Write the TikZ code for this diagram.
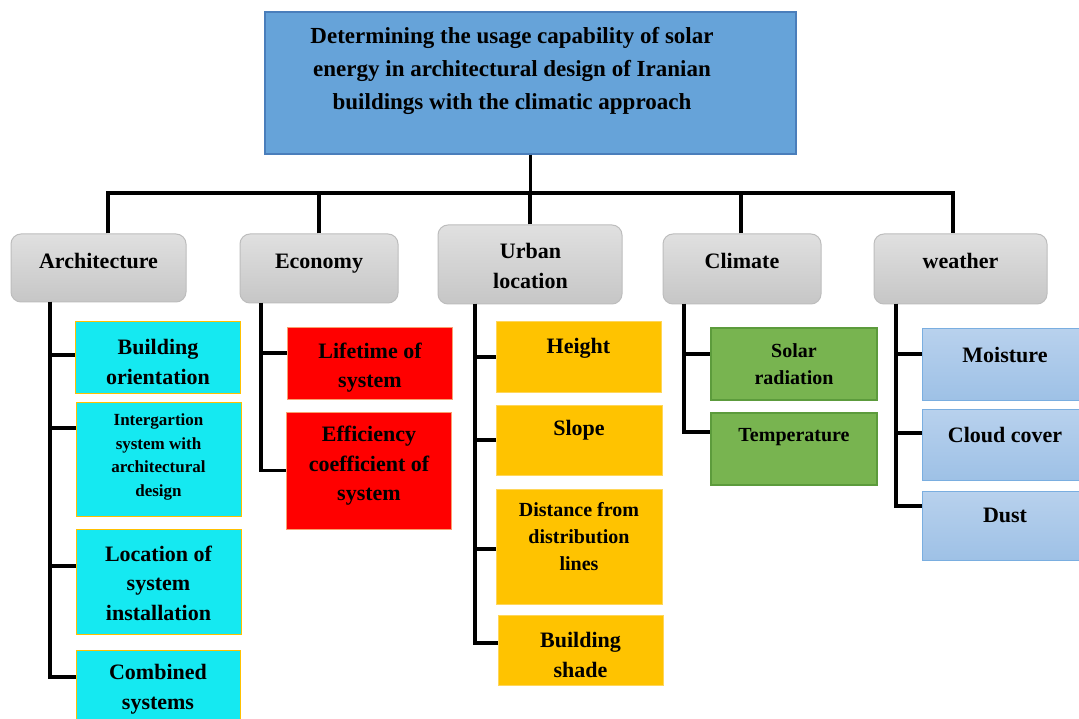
\documentclass[tikz,border=0pt]{standalone}
\usepackage{fontspec}
\setmainfont{Liberation Serif}
\usetikzlibrary{fit,calc}
\definecolor{titlefill}{HTML}{66A3D9}
\definecolor{titleborder}{HTML}{4A7EBB}
\definecolor{catTop}{HTML}{E0E0E0}
\definecolor{catBot}{HTML}{C6C6C6}
\definecolor{catborder}{HTML}{BDBDBD}
\definecolor{cyanF}{HTML}{15E9F1}
\definecolor{orangeB}{HTML}{FFC000}
\definecolor{redF}{HTML}{FF0000}
\definecolor{redB}{HTML}{F8A070}
\definecolor{yelF}{HTML}{FFC300}
\definecolor{yelB}{HTML}{FFD659}
\definecolor{grnF}{HTML}{78B450}
\definecolor{grnB}{HTML}{5C9B3C}
\definecolor{bluTop}{HTML}{B8D1ED}
\definecolor{bluBot}{HTML}{9EC1E6}
\definecolor{bluB}{HTML}{7AAEE0}
\tikzset{
  conn/.style={line width=3.4pt, black},
  titlebox/.style={draw=titleborder, line width=1.2pt, fill=titlefill, inner sep=0pt},
  catbox/.style={draw=catborder, line width=1pt, rounded corners=10pt, top color=catTop, bottom color=catBot, inner sep=0pt},
  cyanbox/.style={draw=orangeB, line width=1pt, fill=cyanF, inner sep=0pt},
  redbox/.style={draw=redB, line width=1pt, fill=redF, inner sep=0pt},
  yelbox/.style={draw=yelB, line width=1pt, fill=yelF, inner sep=0pt},
  grnbox/.style={draw=grnB, line width=1.5pt, fill=grnF, inner sep=0pt},
  blubox/.style={draw=bluB, line width=1pt, top color=bluTop, bottom color=bluBot, inner sep=0pt},
  txt/.style={align=center, inner sep=0pt, text=black},
  ttl/.style={txt, font=\fontsize{23}{33}\selectfont\bfseries},
  big/.style={txt, font=\fontsize{22}{29.5}\selectfont\bfseries},
  mid/.style={txt, font=\fontsize{20}{27}\selectfont\bfseries},
  sml/.style={txt, font=\fontsize{17}{23.7}\selectfont\bfseries},
}
\begin{document}
\begin{tikzpicture}[x=1pt,y=-1pt]
\useasboundingbox (0,0) rectangle (1079,719);
\fill[white] (0,0) rectangle (1079,719);

% title
\node[titlebox, fit={(265,12) (796,154)}] (title) {};
\node[ttl] (titleT) at (512,71) {Determining the usage capability of solar\\energy in architectural design of Iranian\\buildings with the climatic approach};

% categories
\node[catbox, fit={(11,234) (186,302)}] (arch) {};
\node[big, font=\fontsize{22}{30}\selectfont\bfseries] (archT) at (98.5,261) {Architecture};
\node[catbox, fit={(240,234) (398,303)}] (econ) {};
\node[big] (econT) at (319,263.5) {Economy};
\node[catbox, fit={(438,225) (622,304)}] (urb) {};
\node[big, font=\fontsize{22}{30}\selectfont\bfseries] (urbT) at (530.5,266) {Urban\\location};
\node[catbox, fit={(663,234) (821,304)}] (clim) {};
\node[big] (climT) at (742,261) {Climate};
\node[catbox, fit={(874,234) (1047,304)}] (wea) {};
\node[big] (weaT) at (960.5,261) {weather};

% top connectors
\coordinate (hub) at (530.5,193);
\draw[conn] (title.south) -- (hub);
\draw[conn] ([xshift=9.5pt]arch.north) |- (hub) -| ([xshift=-7.5pt]wea.north);
\draw[conn] (econ.north) -- (econ.north |- hub);
\draw[conn] (urb.north) -- (urb.north |- hub);
\draw[conn] ([xshift=-1pt]clim.north) -- ([xshift=-1pt]clim.north |- hub);

% architecture children
\node[cyanbox, fit={(75,322) (240,393)}] (a1) {};
\node[big] (a1T) at (158,362) {Building\\orientation};
\node[cyanbox, fit={(76,402) (241,516)}] (a2) {};
\node[sml] (a2T) at (158.5,457) {Intergartion\\system with\\architectural\\design};
\node[cyanbox, fit={(76,529) (241,634)}] (a3) {};
\node[big] (a3T) at (158.5,583) {Location of\\system\\installation};
\node[cyanbox, fit={(76,650) (240,728)}] (a4) {};
\node[big] (a4T) at (158,689) {Combined\\systems};
\coordinate (archS) at (50,302);
\draw[conn] (archS) |- ([yshift=2.5pt]a1.west);
\draw[conn] (archS) |- ([yshift=31pt]a2.west);
\draw[conn] (archS) |- ([yshift=15.5pt]a3.west);
\draw[conn] (archS) |- ([yshift=12pt]a4.west);

% economy children
\node[redbox, fit={(287,328) (452,399)}] (e1) {};
\node[big] (e1T) at (370,367.5) {Lifetime of\\system};
\node[redbox, fit={(286,412) (451,529)}] (e2) {};
\node[big] (e2T) at (369,466) {Efficiency\\coefficient of\\system};
\coordinate (econS) at (261,303);
\draw[conn] (econS) |- ([yshift=10.5pt]e1.west);
\draw[conn] (econS) |- (e2.west);

% urban children
\node[yelbox, fit={(496,322) (661,392)}] (u1) {};
\node[big] (u1T) at (578.5,348) {Height};
\node[yelbox, fit={(496,405) (662,475)}] (u2) {};
\node[big] (u2T) at (579,430) {Slope};
\node[yelbox, fit={(496,489) (662,604)}] (u3) {};
\node[mid] (u3T) at (579,536.5) {Distance from\\distribution\\lines};
\node[yelbox, fit={(498,615) (663,685)}] (u4) {};
\node[big] (u4T) at (580.5,655) {Building\\shade};
\coordinate (urbS) at (475,304);
\draw[conn] (urbS) |- (u1.west);
\draw[conn] (urbS) |- (u2.west);
\draw[conn] (urbS) |- ([yshift=-2.5pt]u3.west);
\draw[conn] (urbS) |- ([yshift=7pt]u4.west);

% climate children
\node[grnbox, fit={(711,328) (877,400)}] (c1) {};
\node[mid] (c1T) at (794,364) {Solar\\radiation};
\node[grnbox, fit={(711,413) (877,485)}] (c2) {};
\node[mid] (c2T) at (794,437.5) {Temperature};
\coordinate (climS) at (684,304);
\draw[conn] (climS) |- ([yshift=10pt]c1.west);
\draw[conn] (climS) |- ([yshift=17pt]c2.west);

% weather children
\node[blubox, fit={(922,329) (1088,400)}] (w1) {};
\node[big] (w1T) at (1005,355) {Moisture};
\node[blubox, fit={(922,409) (1088,480)}] (w2) {};
\node[big] (w2T) at (1005,435) {Cloud cover};
\node[blubox, fit={(922,491) (1088,560)}] (w3) {};
\node[big] (w3T) at (1005,515) {Dust};
\coordinate (weaS) at (896,304);
\draw[conn] (weaS) |- ([yshift=10.5pt]w1.west);
\draw[conn] (weaS) |- ([yshift=11.5pt]w2.west);
\draw[conn] (weaS) |- ([yshift=19.5pt]w3.west);
\end{tikzpicture}
\end{document}
